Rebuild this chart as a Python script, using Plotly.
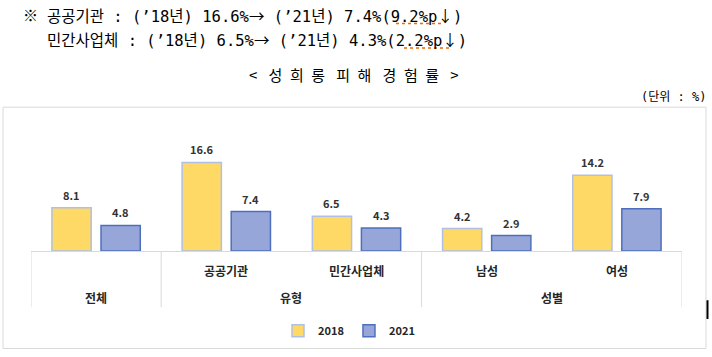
import plotly.graph_objects as go

# ---- data ----
sub_labels = ["", "공공기관", "민간사업체", "남성", "여성"]
group_labels = ["전체", "유형", "성별"]
group_members = [[0], [1, 2], [3, 4]]
series_names = ["2018", "2021"]
values_2018 = [8.1, 16.6, 6.5, 4.2, 14.2]
values_2021 = [4.8, 7.4, 4.3, 2.9, 7.9]

AR = "<span style='font-family:Noto Sans CJK KR'>{}</span>"
header_line1 = "공공기관 : (’18년) 16.6%" + AR.format("→") + " (’21년) 7.4%(9.2%p" + AR.format("↓") + ")"
header_line2 = "민간사업체 : (’18년) 6.5%" + AR.format("→") + " (’21년) 4.3%(2.2%p" + AR.format("↓") + ")"
title_text = "<\u2002\u2005성\u2002희\u2002롱\u2002\u2005피\u2002해\u2002\u2005경\u2002험\u2002률\u2002\u2005>"
unit_text = "(단위 : %)"

# ---- layout geometry (pixels) ----
W, Hh = 712, 357
L, R, T, B = 31, 682, 120, 253
PW, PH = R - L, B - T
YMAX = 24.54
BARGAP = 0.246
FONT = "Noto Sans CJK KR"
HFONT = "DejaVu Sans Mono, Noto Sans CJK KR"

def px(X):
    return (X - L) / PW

def py(Y):
    return (B - Y) / PH

x_idx = list(range(len(sub_labels)))

fig = go.Figure()
fig.add_trace(go.Bar(
    x=x_idx, y=values_2018, name=series_names[0],
    marker=dict(color="#FFD966", line=dict(color="#AFC0E4", width=1.5)),
))
fig.add_trace(go.Bar(
    x=x_idx, y=values_2021, name=series_names[1],
    marker=dict(color="#97A6D8", line=dict(color="#4F6FBE", width=1.5)),
))

annotations = []
# value labels
group_px = PW / len(x_idx)
slot_px = group_px * (1 - BARGAP) / 2
for vals, sign in ((values_2018, -1), (values_2021, 1)):
    for i, v in enumerate(vals):
        annotations.append(dict(
            x=i, y=v, xref="x", yref="y", text=f"<b>{v:.1f}</b>",
            showarrow=False, xshift=sign * slot_px / 2, yshift=13,
            yanchor="middle", font=dict(family=FONT, size=11, color="#333333"),
        ))
# category labels
for i, s in enumerate(sub_labels):
    if s:
        annotations.append(dict(
            x=i, y=py(273), xref="x", yref="paper", text=f"<b>{s}</b>",
            showarrow=False, yanchor="middle",
            font=dict(family=FONT, size=12, color="#262626"),
        ))
for g, mem in zip(group_labels, group_members):
    annotations.append(dict(
        x=sum(mem) / len(mem), y=py(300), xref="x", yref="paper", text=f"<b>{g}</b>",
        showarrow=False, yanchor="middle",
        font=dict(family=FONT, size=12, color="#262626"),
    ))
# header texts
annotations += [
    dict(x=px(21), y=py(13), xref="paper", yref="paper", text="※", showarrow=False,
         xanchor="left", yanchor="middle", font=dict(family=FONT, size=15, color="#000")),
    dict(x=px(45), y=py(13), xref="paper", yref="paper", text=header_line1, showarrow=False,
         xanchor="left", yanchor="middle", font=dict(family=HFONT, size=15.5, color="#000")),
    dict(x=px(45), y=py(38), xref="paper", yref="paper", text=header_line2, showarrow=False,
         xanchor="left", yanchor="middle", font=dict(family=HFONT, size=15.5, color="#000")),
    dict(x=px(354), y=py(74), xref="paper", yref="paper", text=title_text, showarrow=False,
         xanchor="center", yanchor="middle", font=dict(family=FONT, size=15, color="#000")),
    dict(x=px(708), y=py(97), xref="paper", yref="paper", text=unit_text, showarrow=False,
         xanchor="right", yanchor="middle", font=dict(family=HFONT, size=12, color="#000")),
]

shapes = [
    # chart frame
    dict(type="rect", xref="paper", yref="paper", x0=px(3), x1=px(706), y0=py(352), y1=py(107),
         line=dict(color="#D9D9D9", width=1), layer="below"),
    # cursor mark
    dict(type="line", xref="paper", yref="paper", x0=px(707.5), x1=px(707.5), y0=py(303), y1=py(322),
         line=dict(color="#000", width=2)),
    # spell-check underlines
    dict(type="line", xref="paper", yref="paper", x0=px(396), x1=px(444), y0=py(22), y1=py(22),
         line=dict(color="#E46C0A", width=1.5, dash="dot")),
    dict(type="line", xref="paper", yref="paper", x0=px(404), x1=px(452), y0=py(47), y1=py(47),
         line=dict(color="#E46C0A", width=1.5, dash="dot")),
]
# category dividers
bounds = sorted({-0.5, 4.5} | {m[0] - 0.5 for m in group_members})
for b in bounds:
    shapes.append(dict(type="line", xref="x", yref="paper", x0=b, x1=b, y0=0, y1=py(310),
                       line=dict(color="#D9D9D9", width=1)))

fig.update_layout(
    width=W, height=Hh,
    margin=dict(l=L, r=W - R, t=T, b=Hh - B, pad=0),
    paper_bgcolor="white", plot_bgcolor="white",
    barmode="group", bargap=BARGAP, bargroupgap=0.2,
    xaxis=dict(range=[-0.5, 4.5], showticklabels=False, showgrid=False, zeroline=False,
               showline=True, linecolor="#D9D9D9", linewidth=1, ticks="", fixedrange=True),
    yaxis=dict(range=[0, YMAX], visible=False, fixedrange=True),
    showlegend=True,
    legend=dict(orientation="h", x=px(349), xanchor="center", y=py(334), yanchor="middle",
                font=dict(family=FONT, size=11, color="#262626", weight="bold"),
                itemwidth=30, bgcolor="rgba(0,0,0,0)"),
    annotations=annotations, shapes=shapes,
    font=dict(family=FONT),
)

fig.write_html("out.html", config={"displayModeBar": False},
               post_script="document.body.style.margin='0';")
